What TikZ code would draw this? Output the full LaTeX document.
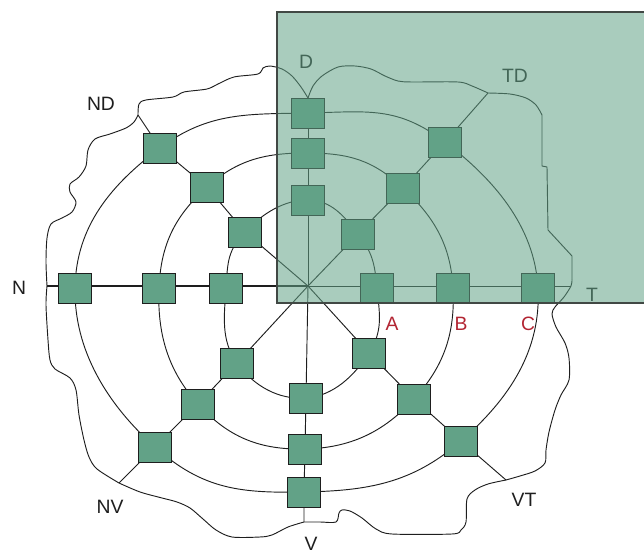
\documentclass[tikz,border=0pt]{standalone}
\usepackage{fontspec}
\setmainfont{Liberation Sans}
\pgfdeclarelayer{background}
\pgfsetlayers{background,main}
\definecolor{boxgreen}{RGB}{98,162,135}
\definecolor{edge}{RGB}{30,30,30}
\definecolor{framegray}{RGB}{65,72,68}
\definecolor{lblred}{RGB}{178,36,50}
\tikzset{
  unit/.style={draw=edge, line width=0.7pt, fill=boxgreen, inner sep=0pt,
    minimum width=24.75pt, minimum height=22.5pt},
  wire/.style={draw=edge, line width=0.7pt},
  trunk/.style={draw=edge, line width=1.4pt},
  border/.style={draw=edge, line width=0.7pt},
  lbl/.style={font=\fontsize{14.5}{16}\selectfont, text=edge, inner sep=0pt},
  redlbl/.style={lbl, text=lblred},
  zone/.style={fill=boxgreen, fill opacity=0.55, draw=framegray, line width=1pt},
}
\begin{document}
\begin{tikzpicture}[x=0.75pt,y=-0.75pt]
\useasboundingbox (0,0) rectangle (644,552);

% centre of the star and free ends of the spokes on the boundary
\coordinate (O)   at (308,286);
\coordinate (eD)  at (308,98);
\coordinate (eTD) at (488,93);
\coordinate (eT)  at (571,286);
\coordinate (eVT) at (506,480);
\coordinate (eV)  at (304,522);
\coordinate (eNV) at (119,483);
\coordinate (eN)  at (47,286);
\coordinate (eND) at (138,115);

% switching units: rings 1 (inner) to 3 (outer), eight directions
\node[unit] (E1)  at (377,288) {};
\node[unit] (E2)  at (453,288) {};
\node[unit] (E3)  at (538,288) {};
\node[unit] (NE1) at (358,234) {};
\node[unit] (NE2) at (403,188) {};
\node[unit] (NE3) at (445,142) {};
\node[unit] (N1)  at (308,200) {};
\node[unit] (N2)  at (308,153) {};
\node[unit] (N3)  at (308,113) {};
\node[unit] (NW1) at (245,232) {};
\node[unit] (NW2) at (207,187) {};
\node[unit] (NW3) at (160,148) {};
\node[unit] (W1)  at (226,288) {};
\node[unit] (W2)  at (159,288) {};
\node[unit] (W3)  at (75,288) {};
\node[unit] (SW1) at (237,363) {};
\node[unit] (SW2) at (198,404) {};
\node[unit] (SW3) at (155,447) {};
\node[unit] (S1)  at (306,398) {};
\node[unit] (S2)  at (305,449) {};
\node[unit] (S3)  at (304,492) {};
\node[unit] (SE1) at (369,353) {};
\node[unit] (SE2) at (414,399) {};
\node[unit] (SE3) at (461,441) {};

\begin{pgfonlayer}{background}
  % rings
  \draw[wire] plot[smooth cycle, tension=0.75] coordinates {(E1.center) (NE1.center) (N1.center) (NW1.center) (W1.center) (SW1.center) (S1.center) (SE1.center)};
  \draw[wire] plot[smooth cycle, tension=0.75] coordinates {(E2.center) (NE2.center) (N2.center) (NW2.center) (W2.center) (SW2.center) (S2.center) (SE2.center)};
  \draw[wire] plot[smooth cycle, tension=0.75] coordinates {(E3.center) (NE3.center) (N3.center) (NW3.center) (W3.center) (SW3.center) (S3.center) (SE3.center)};
  % spokes
  \draw[trunk] (eN) -- (O);
  \draw[wire] (O) -- (eT);
  \draw[wire] (O) -- (eD);
  \draw[wire] (O) -- (S1.center) -- (S2.center) -- (S3.center) -- (eV);
  \draw[wire] (O) -- (NE1.center) -- (NE2.center) -- (NE3.center) -- (eTD);
  \draw[wire] (O) -- (NW1.center) -- (NW2.center) -- (NW3.center) -- (eND);
  \draw[wire] (O) -- (SW1.center) -- (SW2.center) -- (SW3.center) -- (eNV);
  \draw[wire] (O) -- (SE1.center) -- (SE2.center) -- (SE3.center) -- (eVT);
  % outer boundary of the area
  \draw[border] plot[smooth, tension=0.5] coordinates {(eD) (313,86) (322,76) (338,67) (355,66) (371,69) (385,76) (398,81) (412,82) (458,82) (472,86) (eTD)};
  \draw[border] plot[smooth, tension=0.5] coordinates {(eTD) (510,94) (526,98) (536,105) (542,115)}
    -- (542,166) -- (547,167) -- (548,230) -- (572,256) -- (572,280);
  \draw[border] plot[smooth, tension=0.5] coordinates {(572,280) (eT) (564,297) (555,307) (552,314) (556,327) (565,343) (569,358) (569,380) (561,395) (555,410) (549,432) (546,450) (545,463) (535,471) (520,476) (eVT)};
  \draw[border] plot[smooth, tension=0.5] coordinates {(eVT) (488,484) (475,490) (467,499) (466,522) (461,530) (452,534) (392,534) (376,529) (362,518) (350,511) (342,510) (339,513) (336,522) (320,522) (eV)};
  \draw[border] plot[smooth, tension=0.5] coordinates {(eV) (288,527) (272,535) (260,537) (232,537) (216,530) (203,519) (190,508) (177,502) (162,498) (140,492) (eNV)};
  \draw[border] plot[smooth, tension=0.5] coordinates {(eNV) (97,469) (89,457) (84,440) (79,415) (76,390) (70,378) (55,369) (50,360) (48,340) (46,305) (eN)};
  \draw[border] plot[smooth, tension=0.5] coordinates {(eN) (46,262) (47,238) (51,224) (62,218) (72,212) (76,202) (70,192) (70,184) (79,177) (86,166) (88,150) (95,139) (110,134) (126,128) (134,122) (eND)};
  \draw[border] plot[smooth, tension=0.5] coordinates {(eND) (139,104) (146,100) (173,97) (184,92) (207,89) (218,84) (234,77) (258,74) (263,68) (270,66) (282,69) (292,76) (301,87) (eD)};
\end{pgfonlayer}

% direction labels
\node[lbl] (lN)  at (19,288)  {N};
\node[lbl] (lND) at (101,104) {ND};
\node[lbl] (lNV) at (110,507) {NV};
\node[lbl] (lV)  at (311,544) {V};
\node[lbl] (lVT) at (524,500) {VT};
\node[lbl] (lD)  at (306,62)  {D};
\node[lbl] (lTD) at (515,76)  {TD};
\node[lbl] (lT)  at (592,295) {T};

% shaded quarter
\path[zone] (277,12) rectangle (660,303);

% ring labels
\node[redlbl] (lA) at (392,324) {A};
\node[redlbl] (lB) at (461,324) {B};
\node[redlbl] (lC) at (528,324) {C};
\end{tikzpicture}
\end{document}
